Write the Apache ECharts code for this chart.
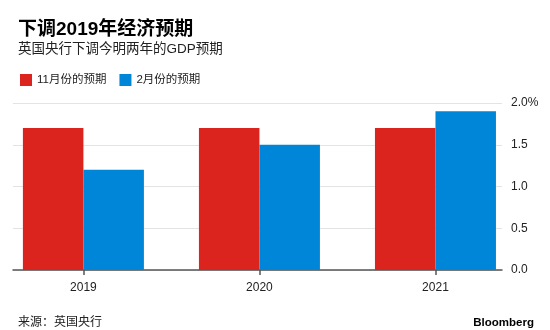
<!DOCTYPE html>
<html>
<head>
<meta charset="utf-8">
<script src="https://cdn.jsdelivr.net/npm/echarts@6/dist/echarts.min.js"></script>
<style>html,body{margin:0;padding:0;background:#fff;}#c{width:550px;height:330px;}</style>
</head>
<body>
<div id="c"></div>
<script>
var titleText = '下调2019年经济预期';
var subtitleText = '英国央行下调今明两年的GDP预期';
var sourceText = '来源：英国央行';
var brandText = 'Bloomberg';
var categories = ['2019', '2020', '2021'];
var seriesNames = ['11月份的预期', '2月份的预期'];
var novValues = [1.7, 1.7, 1.7];
var febValues = [1.2, 1.5, 1.9];
var yTickValues = [0, 0.5, 1.0, 1.5, 2.0];

var FONT = "'Liberation Sans', 'Noto Sans CJK SC', sans-serif";
function toPoints(vals) { return vals.map(function (v, i) { return [i, v]; }); }
var catIdx = categories.map(function (c, i) { return i; });

var chart = echarts.init(document.getElementById('c'), null, { renderer: 'canvas' });
chart.setOption({
  animation: false,
  backgroundColor: '#fff',
  textStyle: { fontFamily: FONT },
  title: [
    { text: titleText, left: 13, top: 15, textStyle: { fontFamily: FONT, fontSize: 19, fontWeight: 'bold', color: '#000' } },
    { text: subtitleText, left: 13, top: 38, textStyle: { fontFamily: FONT, fontSize: 13.5, fontWeight: 'normal', color: '#222' } },
    { text: sourceText, left: 13, top: 312, textStyle: { fontFamily: FONT, fontSize: 12, fontWeight: 'normal', color: '#222' } },
    { text: brandText, right: 11, top: 312, textStyle: { fontFamily: FONT, fontSize: 11.5, fontWeight: 'bold', color: '#000' } }
  ],
  legend: {
    left: 15, top: 69, itemWidth: 12, itemHeight: 12, itemGap: 13, icon: 'rect',
    textStyle: { fontFamily: FONT, fontSize: 11.5, color: '#222' },
    data: seriesNames
  },
  grid: { left: 13, right: 48, top: 103, bottom: 60 },
  xAxis: {
    type: 'value', min: -0.4, max: 2.378,
    splitLine: { show: false },
    axisLine: { show: true, onZero: false, lineStyle: { color: '#555', width: 1.5 } },
    axisTick: { show: true, customValues: catIdx, length: 5, lineStyle: { color: '#555', width: 1.5 } },
    axisLabel: { customValues: catIdx, margin: 12, fontSize: 12, color: '#222', fontFamily: FONT,
      formatter: function (v) { return categories[Math.round(v)]; } }
  },
  yAxis: {
    type: 'value', position: 'right', min: 0, max: 2, interval: 0.5,
    axisLine: { show: false }, axisTick: { show: false },
    splitLine: { lineStyle: { color: '#e3e3e3', width: 1 } },
    axisLabel: { margin: 9, fontSize: 12, color: '#222', fontFamily: FONT,
      formatter: function (v) { return v === 2 ? v.toFixed(1) + '%' : v.toFixed(1); } }
  },
  series: [
    { name: seriesNames[0], type: 'bar', data: toPoints(novValues), barWidth: 60.5, barGap: '0%',
      itemStyle: { color: '#DC241F' } },
    { name: seriesNames[1], type: 'bar', data: toPoints(febValues), barWidth: 60.5, barGap: '0%',
      itemStyle: { color: '#0086D9' } }
  ]
});
</script>
</body>
</html>
